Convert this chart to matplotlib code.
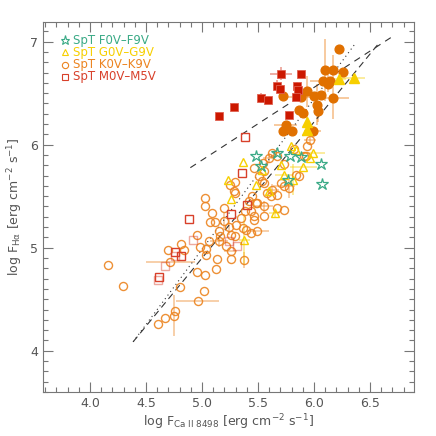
import matplotlib
matplotlib.use('Agg')
import matplotlib.pyplot as plt
from matplotlib.ticker import MultipleLocator
import numpy as np

# --- SpT F0V-F9V (stars) ---
f_x = [5.481, 5.673, 5.786, 5.882, 6.067, 6.076, 5.768, 5.530]
f_y = [5.893, 5.919, 5.893, 5.879, 5.816, 5.618, 5.660, 5.790]

# --- SpT G0V-G9V, active (filled triangles) ---
ga_x = [6.225, 6.354, 5.942, 5.940]
ga_y = [6.638, 6.648, 6.223, 6.146]
ga_xerr = [0.06, 0.10, 0.0, 0.0]
ga_yerr = [0.0, 0.0, 0.05, 0.0]

# --- SpT G0V-G9V, inactive (open triangles) ---
gi_x = [5.365, 5.228, 5.263, 5.378, 5.649, 5.798, 5.837, 5.995, 5.965, 5.906,
        5.703, 5.729, 5.816, 5.598, 5.478, 5.532]
gi_y = [5.830, 5.660, 5.471, 5.078, 5.340, 5.990, 5.951, 5.922, 5.874, 5.786,
        5.806, 5.709, 5.660, 5.547, 5.612, 5.757]
gi_xerr = [0, 0, 0, 0.05, 0.05, 0, 0, 0.10, 0, 0.12, 0, 0.08, 0, 0, 0, 0]
gi_yerr = [0, 0, 0, 0.25, 0.05, 0, 0, 0, 0, 0, 0, 0, 0.15, 0, 0, 0]

# --- SpT K0V-K9V, active (filled circles) ---
ka_x = [6.222, 6.097, 6.168, 6.255, 6.085, 6.142, 6.121, 5.942, 6.001, 6.061,
        5.886, 6.166, 5.720, 6.025, 5.867, 5.906, 6.034, 5.747, 5.727, 5.801, 5.987]
ka_y = [6.927, 6.723, 6.721, 6.704, 6.621, 6.621, 6.592, 6.519, 6.471, 6.485,
        6.461, 6.451, 6.476, 6.388, 6.340, 6.311, 6.323, 6.194, 6.131, 6.136, 6.131]
ka_xerr = [0, 0, 0, 0, 0.12, 0, 0, 0, 0, 0,
           0.15, 0.15, 0, 0, 0, 0, 0, 0.10, 0, 0, 0.08]
ka_yerr = [0, 0.30, 0.15, 0, 0, 0, 0.08, 0.15, 0, 0,
           0, 0.20, 0, 0.20, 0, 0, 0.10, 0, 0, 0, 0]

# --- SpT K0V-K9V, inactive (open circles) ---
ki_x = [4.164, 4.298, 4.603, 4.672, 4.753, 4.759, 4.800, 4.962, 5.015, 4.717,
        4.696, 4.813, 4.842, 4.956, 5.031, 5.125, 5.135, 5.255, 5.374, 4.959,
        5.024, 5.024, 5.069, 5.120, 5.195, 5.040, 5.040, 4.986, 5.060, 5.150,
        5.210, 5.255, 5.150, 5.165, 5.255, 5.299, 5.239, 5.308, 5.344, 5.434,
        5.449, 5.494, 5.368, 5.434, 5.494, 5.299, 5.248, 5.299, 5.284, 5.380,
        5.463, 5.463, 5.548, 5.598, 5.667, 5.732, 5.553, 5.508, 5.553, 5.628,
        5.583, 5.732, 5.777, 5.837, 5.911, 5.479, 5.419, 5.553, 5.673, 5.463,
        5.389, 5.538, 5.703, 5.732, 5.613, 5.673, 5.553, 5.867, 5.965, 5.822,
        5.927, 5.942, 5.628, 5.195, 5.093]
ki_y = [4.835, 4.624, 4.262, 4.317, 4.340, 4.388, 4.618, 4.479, 4.576, 4.861,
        4.981, 5.039, 4.974, 4.760, 4.738, 4.793, 4.890, 4.890, 4.883, 5.123,
        5.482, 5.408, 5.246, 5.246, 5.255, 4.987, 4.932, 5.007, 5.061, 5.061,
        5.013, 4.964, 5.158, 5.110, 5.126, 5.110, 5.201, 5.223, 5.288, 5.352,
        5.498, 5.434, 5.191, 5.143, 5.158, 5.531, 5.612, 5.634, 5.547, 5.352,
        5.272, 5.774, 5.822, 5.871, 5.886, 5.815, 5.741, 5.692, 5.628, 5.563,
        5.531, 5.369, 5.580, 5.709, 5.893, 5.434, 5.449, 5.401, 5.385, 5.304,
        5.175, 5.644, 5.628, 5.595, 5.498, 5.514, 5.304, 5.692, 6.049, 5.958,
        5.886, 5.983, 5.919, 5.385, 5.340]
ki_xerr = np.zeros(len(ki_x))
ki_yerr = np.zeros(len(ki_x))
# error bars of a few inactive K stars: (index, xerr, yerr)
ki_err = [(9, 0.22, 0.0), (7, 0.19, 0.0), (4, 0.0, 0.20), (78, 0.05, 0.05),
          (29, 0.08, 0.05), (36, 0.0, 0.08), (44, 0.10, 0.0), (59, 0.06, 0.06),
          (62, 0.0, 0.10), (18, 0.0, 0.08), (31, 0.06, 0.0), (67, 0.08, 0.05),
          (73, 0.10, 0.0), (24, 0.0, 0.08), (53, 0.05, 0.05)]
for i, ex, ey in ki_err:
    ki_xerr[i] = ex
    ki_yerr[i] = ey

# --- SpT M0V-M5V, active (filled squares) ---
ma_x = [5.703, 5.888, 5.673, 5.696, 5.846, 5.858, 5.523, 5.589, 5.837, 5.284, 5.153, 5.777]
ma_y = [6.689, 6.683, 6.573, 6.541, 6.566, 6.534, 6.453, 6.437, 6.463, 6.366, 6.275, 6.291]
ma_xerr = [0.10, 0, 0, 0, 0, 0, 0, 0, 0, 0, 0, 0]
ma_yerr = [0.06, 0, 0.05, 0, 0.04, 0, 0.05, 0, 0, 0.04, 0, 0]

# --- SpT M0V-M5V, inactive (open squares) ---
mi_x = [5.383, 5.359, 5.404, 5.263, 4.881, 4.920, 4.762, 4.815, 4.755, 4.672,
        4.614, 4.605, 5.237, 5.315]
mi_y = [6.073, 5.725, 5.417, 5.327, 5.279, 5.071, 4.956, 4.922, 4.916, 4.820,
        4.714, 4.689, 5.061, 5.013]
mi_alpha = [1.0, 1.0, 1.0, 1.0, 1.0, 0.45, 1.0, 1.0, 0.45, 0.45,
            1.0, 0.45, 0.45, 0.45]

# relations: (slope, intercept, x from, x to, linestyle)
fits = [(0.705, 2.325, 4.896, 6.688, (0, (6, 5))),
        (1.32, -1.701, 4.385, 6.57, (0, (6, 4))),
        (1.459, -2.311, 4.385, 6.375, (0, (1, 3)))]

c_f = '#3aaa86'
c_g = '#f7cf00'
c_k = '#ec8420'
c_ka = '#e07000'
c_m = '#cc1800'
c_mi = '#d8402a'
txt = '#555555'

fig = plt.figure(figsize=(4.36, 4.36), dpi=100)
ax = fig.add_axes([0.0986, 0.1009, 0.8501, 0.8486])

for s, b, x0, x1, ls in fits:
    xx = np.array([x0, x1])
    ax.plot(xx, s * xx + b, color='#333333', lw=0.8, linestyle=ls, zorder=2)

# error bars
ax.errorbar(ki_x, ki_y, xerr=ki_xerr, yerr=ki_yerr, fmt='none', ecolor=c_k, alpha=0.45, lw=1.2, zorder=1)
ax.errorbar(gi_x, gi_y, xerr=gi_xerr, yerr=gi_yerr, fmt='none', ecolor=c_g, alpha=0.45, lw=1.2, zorder=1)
ax.errorbar(ga_x, ga_y, xerr=ga_xerr, yerr=ga_yerr, fmt='none', ecolor=c_g, alpha=0.45, lw=1.2, zorder=1)
ax.errorbar(ka_x, ka_y, xerr=ka_xerr, yerr=ka_yerr, fmt='none', ecolor=c_k, alpha=0.5, lw=1.2, zorder=1)
ax.errorbar(ma_x, ma_y, xerr=ma_xerr, yerr=ma_yerr, fmt='none', ecolor=c_mi, alpha=0.5, lw=1.2, zorder=1)

# points
ax.plot(ki_x, ki_y, 'o', ms=5.8, mfc='none', mec=c_k, mew=1.0, alpha=0.9, zorder=3)
ax.plot(gi_x, gi_y, '^', ms=6, mfc='none', mec=c_g, mew=1.0, zorder=3)
for x, y, a in zip(mi_x, mi_y, mi_alpha):
    ax.plot(x, y, 's', ms=5.2, mfc='none', mec=c_mi, mew=1.0, alpha=a, zorder=3)
ax.plot(f_x, f_y, '*', ms=9, mfc='none', mec=c_f, mew=0.9, zorder=4)
ax.plot(ka_x, ka_y, 'o', ms=6.3, color=c_ka, mec=c_ka, zorder=4)
ax.plot(ga_x, ga_y, '^', ms=6.5, color=c_g, mec=c_g, zorder=4)
ax.plot(ma_x, ma_y, 's', ms=5.8, color=c_m, mec='#e06050', mew=0.6, zorder=5)

# legend
leg = [('*', c_f, 'SpT F0V\u2013F9V', 6.5),
       ('^', c_g, 'SpT G0V\u2013G9V', 4.5),
       ('o', c_k, 'SpT K0V\u2013K9V', 4.5),
       ('s', c_mi, 'SpT M0V\u2013M5V', 4.5)]
for i, (m, c, lab, ms) in enumerate(leg):
    yy = 0.951 - i * 0.033
    ax.plot(0.059, yy, m, ms=ms, mfc='none', mec=c, mew=0.8, transform=ax.transAxes, clip_on=False)
    ax.text(0.082, yy, lab, color=c, fontsize=8.5, va='center', ha='left', transform=ax.transAxes)

ax.set_xlim(3.58, 6.89)
ax.set_ylim(3.6, 7.19)
ax.xaxis.set_major_locator(MultipleLocator(0.5))
ax.xaxis.set_minor_locator(MultipleLocator(0.1))
ax.yaxis.set_major_locator(MultipleLocator(1))
ax.yaxis.set_minor_locator(MultipleLocator(0.1))
ax.xaxis.set_major_formatter(plt.FormatStrFormatter('%.1f'))
ax.yaxis.set_major_formatter(plt.FormatStrFormatter('%d'))
ax.tick_params(which='both', direction='in', top=True, right=True, colors='#777777', labelcolor=txt, labelsize=9)
ax.tick_params(which='major', length=7, width=0.8)
ax.tick_params(which='minor', length=3.5, width=0.8)
for sp in ax.spines.values():
    sp.set_color('#777777')
    sp.set_linewidth(0.8)

ax.set_xlabel(r'log F$_{\rm Ca\ II\ 8498}$ [erg cm$^{-2}$ s$^{-1}$]', color=txt, fontsize=9, labelpad=2)
ax.set_ylabel(r'log F$_{\rm H\alpha}$ [erg cm$^{-2}$ s$^{-1}$]', color=txt, fontsize=9, labelpad=4)

plt.savefig('out.png', dpi=100)
